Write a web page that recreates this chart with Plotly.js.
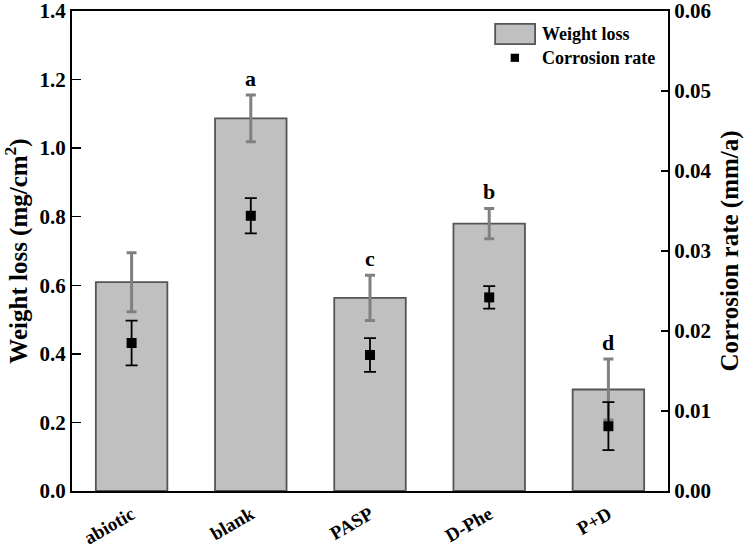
<!DOCTYPE html>
<html>
<head>
<meta charset="utf-8">
<script src="https://cdn.plot.ly/plotly-3.0.1.min.js"></script>
<style>
  body { margin: 0; background: #fff; }
  #chart { width: 754px; height: 551px; }
</style>
</head>
<body>
<div id="chart"></div>
<script>
var groups = ['abiotic', 'blank', 'PASP', 'D-Phe', 'P+D'];
var weightLoss = [0.609, 1.087, 0.563, 0.780, 0.296];
var weightLossErr = [0.086, 0.068, 0.066, 0.044, 0.089];
var corrosionRate = [0.0185, 0.0344, 0.0170, 0.0242, 0.0081];
var corrosionRateErr = [0.0028, 0.0022, 0.0021, 0.0014, 0.0030];
var sigLetters = ['', 'a', 'c', 'b', 'd'];

var font = 'Liberation Serif, Times New Roman, serif';

var barTrace = {
  name: 'Weight loss',
  type: 'bar',
  x: groups,
  y: weightLoss,
  width: 0.6,
  marker: { color: '#c0c0c0', line: { color: '#555555', width: 1.8 } },
  error_y: { type: 'data', array: weightLossErr, visible: true, color: '#808080', thickness: 3, width: 5 },
  showlegend: false,
  hoverinfo: 'skip'
};

var rateTrace = {
  name: 'Corrosion rate',
  type: 'scatter',
  mode: 'markers',
  x: groups,
  y: corrosionRate,
  yaxis: 'y2',
  marker: { color: '#000', symbol: 'square', size: 10 },
  error_y: { type: 'data', array: corrosionRateErr, visible: true, color: '#000', thickness: 1.8, width: 6 },
  showlegend: false,
  hoverinfo: 'skip'
};

// significance letters sit on top of the weight-loss error bars
var letterNotes = groups.map(function (g, i) {
  return {
    x: g, y: weightLoss[i] + weightLossErr[i], xref: 'x', yref: 'y',
    text: sigLetters[i], showarrow: false, yanchor: 'bottom', yshift: 2,
    font: { family: font, size: 22, color: '#000', weight: 'bold' }
  };
}).filter(function (a) { return a.text !== ''; });

// hand-drawn legend box like the original
var legendNotes = [
  { xref: 'paper', yref: 'paper', x: 0.785, y: 0.952, text: 'Weight loss', showarrow: false,
    xanchor: 'left', yanchor: 'middle', font: { family: font, size: 18, color: '#000', weight: 'bold' } },
  { xref: 'paper', yref: 'paper', x: 0.785, y: 0.902, text: 'Corrosion rate', showarrow: false,
    xanchor: 'left', yanchor: 'middle', font: { family: font, size: 18, color: '#000', weight: 'bold' } }
];
var legendShapes = [
  { type: 'rect', xref: 'paper', yref: 'paper', x0: 0.710, x1: 0.777, y0: 0.931, y1: 0.973,
    fillcolor: '#c0c0c0', line: { color: '#555555', width: 1.8 } },
  { type: 'rect', xref: 'paper', yref: 'paper', x0: 0.736, x1: 0.750, y0: 0.894, y1: 0.911,
    fillcolor: '#000', line: { color: '#000', width: 0 } }
];

var layout = {
  width: 754,
  height: 551,
  margin: { l: 72, r: 86, t: 11, b: 60 },
  paper_bgcolor: '#fff',
  plot_bgcolor: '#fff',
  font: { family: font, color: '#000' },
  bargap: 0.4,
  xaxis: {
    type: 'category',
    tickangle: -30,
    ticklabelstandoff: 3,
    tickfont: { family: font, size: 19, weight: 'bold' },
    showline: true, linecolor: '#000', linewidth: 2, mirror: true,
    ticks: '', showgrid: false, zeroline: false
  },
  yaxis: {
    range: [0, 1.4],
    dtick: 0.2,
    tickformat: '.1f',
    ticklabeloverflow: 'allow',
    ticks: 'inside', ticklen: 9, tickwidth: 1.5, tickcolor: '#000',
    tickfont: { family: font, size: 21, weight: 'bold' },
    showline: true, linecolor: '#000', linewidth: 2,
    showgrid: false, zeroline: false,
    title: { text: 'Weight loss (mg/cm<sup>2</sup>)', standoff: 8,
      font: { family: font, size: 25, weight: 'bold' } }
  },
  yaxis2: {
    overlaying: 'y',
    side: 'right',
    range: [0, 0.06],
    dtick: 0.01,
    tickformat: '.2f',
    ticklabeloverflow: 'allow',
    ticks: 'inside', ticklen: 7, tickwidth: 1.5, tickcolor: '#000',
    tickfont: { family: font, size: 21, weight: 'bold' },
    showline: true, linecolor: '#000', linewidth: 2,
    showgrid: false, zeroline: false,
    title: { text: 'Corrosion rate (mm/a)', standoff: 10,
      font: { family: font, size: 25, weight: 'bold' } }
  },
  annotations: letterNotes.concat(legendNotes),
  shapes: legendShapes
};

Plotly.newPlot('chart', [barTrace, rateTrace], layout, { displayModeBar: false, staticPlot: true });
</script>
</body>
</html>
